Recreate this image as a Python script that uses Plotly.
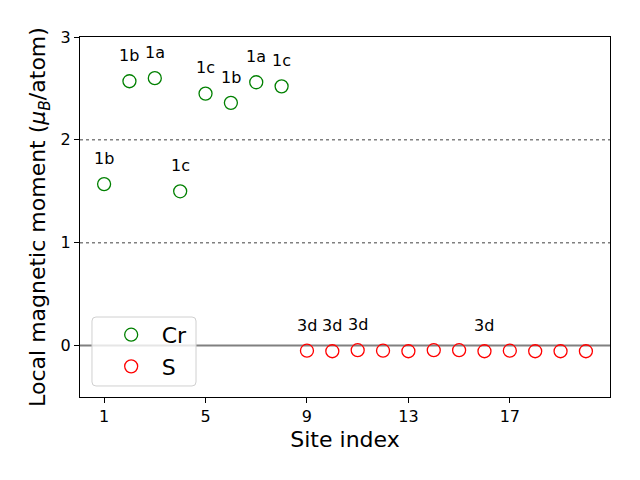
import plotly.graph_objects as go

cr_sites = [1, 2, 3, 4, 5, 6, 7, 8]
cr_moments = [1.57, 2.57, 2.60, 1.50, 2.45, 2.36, 2.56, 2.52]
cr_labels = ["1b", "1b", "1a", "1c", "1c", "1b", "1a", "1c"]

s_sites = [9, 10, 11, 12, 13, 14, 15, 16, 17, 18, 19, 20]
s_moments = [-0.05, -0.055, -0.045, -0.05, -0.055, -0.045, -0.045, -0.055, -0.05, -0.055, -0.055, -0.055]
s_labels = {9: "3d", 10: "3d", 11: "3d", 16: "3d"}

label_offset = 0.25
font = "DejaVu Sans"

fig = go.Figure()
fig.add_trace(go.Scatter(x=cr_sites, y=cr_moments, mode="markers", name="Cr",
                         marker=dict(symbol="circle-open", size=13, color="green",
                                     line=dict(width=1.3, color="green"))))
fig.add_trace(go.Scatter(x=s_sites, y=s_moments, mode="markers", name="S",
                         marker=dict(symbol="circle-open", size=13, color="red",
                                     line=dict(width=1.3, color="red"))))

for xs, ys, lab in zip(cr_sites, cr_moments, cr_labels):
    fig.add_annotation(x=xs, y=ys + label_offset, text=lab, showarrow=False,
                       font=dict(size=16, color="black", family=font), yanchor="middle")
for xs, ys in zip(s_sites, s_moments):
    if xs in s_labels:
        fig.add_annotation(x=xs, y=ys + label_offset, text=s_labels[xs], showarrow=False,
                           font=dict(size=16, color="black", family=font), yanchor="middle")

fig.add_hline(y=0, line=dict(color="gray", width=2), layer="below")
fig.add_hline(y=1, line=dict(color="gray", width=1.5, dash="dot"), layer="below")
fig.add_hline(y=2, line=dict(color="gray", width=1.5, dash="dot"), layer="below")

# legend frame (rounded, semi-transparent) in paper coordinates
W, H = 530.0, 360.0
bx0, bx1, by0, by1 = 0.0226, 0.2189, 0.0306, 0.2222
rx, ry = 4 / W, 4 / H
path = (f"M {bx0+rx},{by0} L {bx1-rx},{by0} Q {bx1},{by0} {bx1},{by0+ry} "
        f"L {bx1},{by1-ry} Q {bx1},{by1} {bx1-rx},{by1} "
        f"L {bx0+rx},{by1} Q {bx0},{by1} {bx0},{by1-ry} "
        f"L {bx0},{by0+ry} Q {bx0},{by0} {bx0+rx},{by0} Z")
fig.add_shape(type="path", path=path, xref="paper", yref="paper",
              fillcolor="rgba(255,255,255,0.8)", line=dict(color="#d0d0d0", width=1), layer="above")

fig.update_layout(
    width=640, height=480,
    margin=dict(l=80, r=30, t=37, b=83),
    paper_bgcolor="white", plot_bgcolor="white",
    font=dict(family=font, color="black"),
    showlegend=True,
    legend=dict(x=0.039, y=0.128, xanchor="left", yanchor="middle",
                bgcolor="rgba(0,0,0,0)", borderwidth=0, itemwidth=51,
                font=dict(size=22, family=font)),
)
fig.update_xaxes(range=[0.05, 20.95], tickvals=[1, 5, 9, 13, 17], showgrid=False, zeroline=False,
                 showline=True, mirror=True, linecolor="black", linewidth=1,
                 ticks="outside", ticklen=5, tickcolor="black", tickfont=dict(size=16),
                 title=dict(text="Site index", font=dict(size=22), standoff=6))
fig.update_yaxes(range=[-0.5, 3], tickvals=[0, 1, 2, 3], showgrid=False, zeroline=False,
                 showline=True, mirror=True, linecolor="black", linewidth=1,
                 ticks="outside", ticklen=5, tickcolor="black", tickfont=dict(size=16),
                 title=dict(text="Local magnetic moment (<i>μ<sub>B</sub></i>/atom)", font=dict(size=22), standoff=8))

fig.write_html("out.html")
